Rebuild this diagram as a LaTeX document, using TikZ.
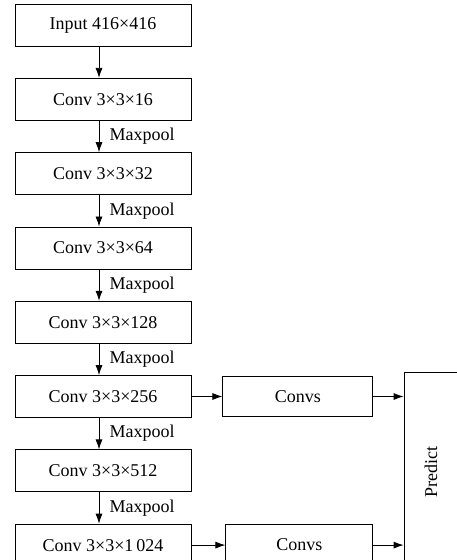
\documentclass[tikz,border=0pt]{standalone}
\usepackage{fontspec}
\setmainfont{Liberation Serif}
\usetikzlibrary{arrows.meta,positioning}

\begin{document}
\begin{tikzpicture}[x=1pt,y=-1pt,node distance=31.5pt,
  layer/.style={draw,line width=0.8pt,minimum width=176pt,minimum height=42pt,inner sep=0pt},
  arr/.style={-{Latex[length=10pt,width=7pt]},line width=0.8pt},
  every node/.style={font=\fontsize{18}{20}\selectfont}]
\useasboundingbox (0,0) rectangle (457,560);
\clip (0,0) rectangle (457,560);

\node[layer] (in) at (103,25) {Input 416×416};
\node[layer] (c16) [below=of in] {Conv 3×3×16};
\node[layer] (c32) [below=of c16] {Conv 3×3×32};
\node[layer] (c64) [below=of c32] {Conv 3×3×64};
\node[layer] (c128) [below=of c64] {Conv 3×3×128};
\node[layer] (c256) [below=of c128] {Conv 3×3×256};
\node[layer] (c512) [below=of c256] {Conv 3×3×512};
\node[layer] (c1024) [below=of c512] {Conv 3×3×1\,024};

\node[layer,minimum width=150pt,minimum height=40pt] (convsa) [right=31pt of c256] {Convs};
\node[layer,minimum width=147pt] (convsb) [right=34pt of c1024] {Convs};
\node[layer,minimum width=54pt,minimum height=200pt] (pred) at (431,472) {\rotatebox{90}{Predict}};

% main column
\path[arr] ([xshift=-4pt]in.south) edge ([xshift=-4pt]c16.north)
  ([xshift=-4pt]c16.south) edge node[right,xshift=7pt] {Maxpool} ([xshift=-4pt]c32.north)
  ([xshift=-4pt]c32.south) edge node[right,xshift=7pt] {Maxpool} ([xshift=-4pt]c64.north)
  ([xshift=-4pt]c64.south) edge node[right,xshift=7pt] {Maxpool} ([xshift=-4pt]c128.north)
  ([xshift=-4pt]c128.south) edge node[right,xshift=7pt] {Maxpool} ([xshift=-4pt]c256.north)
  ([xshift=-4pt]c256.south) edge node[right,xshift=7pt] {Maxpool} ([xshift=-4pt]c512.north)
  ([xshift=-4pt]c512.south) edge node[right,xshift=7pt] {Maxpool} ([xshift=-4pt]c1024.north);

% branches
\draw[arr] (c256) -- (convsa);
\draw[arr] (convsa) -- (convsa -| pred.west);
\draw[arr] (c1024) -- (convsb);
\draw[arr] (convsb) -- (convsb -| pred.west);
\end{tikzpicture}
\end{document}
